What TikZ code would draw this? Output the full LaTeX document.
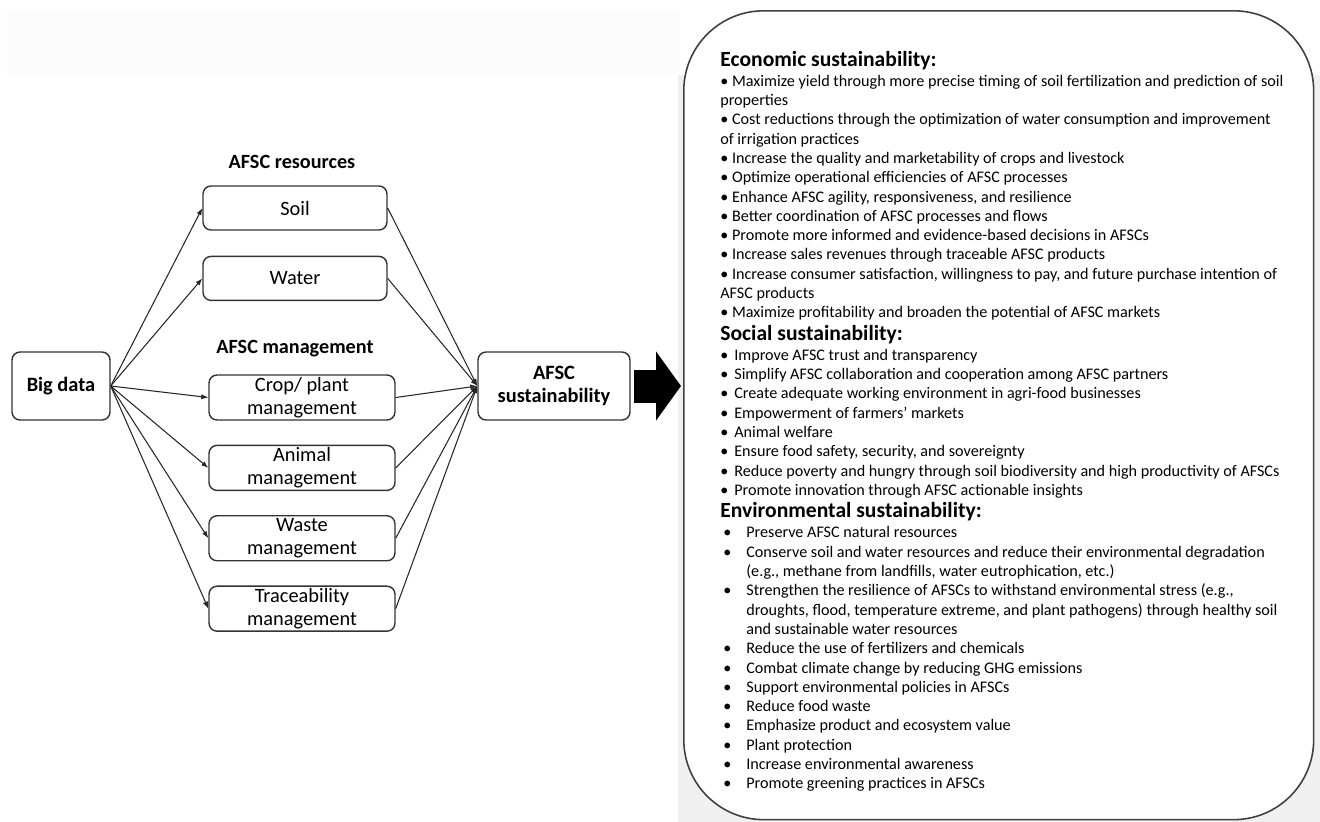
\documentclass[tikz,border=0pt]{standalone}
\usepackage{fontspec}
\setmainfont{Carlito}
\usetikzlibrary{arrows.meta,positioning}

\newcommand{\bodyfont}{\fontsize{9.2}{10.98}\selectfont}
\newcommand{\boxfont}{\fontsize{11.6}{13.2}\selectfont}
\newcommand{\ecobul}{\strut\textbullet\ }
\newcommand{\socbul}{\strut\makebox[0.28cm][l]{\textbullet}}
\newcommand{\envbul}{\strut\makebox[0.46cm][l]{\textbullet}}
\newcommand{\envcont}{\strut\hspace*{0.46cm}}

\begin{document}
\begin{tikzpicture}[
        x=0.02cm, y=-0.02cm,
        font=\boxfont,
        box/.style={draw=black!80, line width=0.8pt, rounded corners=1.6mm, align=center, inner sep=0pt, minimum width=3.68cm, minimum height=0.88cm},
        mbox/.style={box, minimum width=3.72cm, minimum height=0.9cm},
        hub/.style={box, font=\boxfont\bfseries, minimum height=1.36cm},
        grp/.style={font=\fontsize{11.5}{13}\selectfont\bfseries, inner sep=0pt},
        head/.style={font=\fontsize{12.3}{14}\selectfont\bfseries, inner sep=0pt, anchor=base west},
        items/.style={font=\bodyfont, align=left, inner sep=0pt, anchor=north west},
        arr/.style={-{Latex[length=4pt,width=3pt]}, line width=0.6pt, black!85},
        bigarr/.style={-{Triangle[length=0.5cm,width=1.36cm]}, line width=0.66cm, black}
    ]
        \useasboundingbox (0,0) rectangle (1320,822);
        \fill[black!1.2] (7,10) rectangle (680,75);
        \fill[black!6] (678,75) rectangle (1320,822);

        % left part
        \node[hub, minimum width=1.96cm] (big) at (61,386) {Big data};
        \node[grp] (res) at (292,162) {AFSC resources};
        \node[box] (soil) at (295,208) {Soil};
        \node[box, below=0.5cm of soil] (water) {Water};
        \node[grp] (mgmt) at (295,349) {AFSC management};
        \node[mbox] (crop) at (302,397.5) {Crop/ plant\\management};
        \node[mbox, below=0.48cm of crop] (animal) {Animal\\management};
        \node[mbox, below=0.48cm of animal] (waste) {Waste\\management};
        \node[mbox, below=0.48cm of waste] (trace) {Traceability\\management};
        \node[hub, minimum width=3.04cm] (sust) at (554,386) {AFSC\\sustainability};

        \draw[arr] (big.east) -- (soil.west);
        \draw[arr] (big.east) -- (water.west);
        \draw[arr] (big.east) -- (crop.west);
        \draw[arr] (big.east) -- (animal.west);
        \draw[arr] (big.east) -- (waste.west);
        \draw[arr] (big.east) -- (trace.west);
        \draw[arr] (soil.east) -- (sust.west);
        \draw[arr] (water.east) -- (sust.west);
        \draw[arr] (crop.east) -- (sust.west);
        \draw[arr] (animal.east) -- (sust.west);
        \draw[arr] (waste.east) -- (sust.west);
        \draw[arr] (trace.east) -- (sust.west);

        % right part
        \node[draw=black!75, line width=0.9pt, fill=white, rounded corners=1.6cm, minimum width=12.6cm, minimum height=16.18cm, inner sep=0pt, anchor=north west] (frame) at (683,10) {};
        \coordinate (tip) at (sust.east -| frame.west);
        \draw[bigarr] ([xshift=0.06cm]sust.east) -- ([xshift=-0.04cm]tip);

        \node[head] (econ) at (720,66) {Economic sustainability:};
        \node[items] (econlist) at ([yshift=-0.128cm]econ.base west) {%
            \ecobul Maximize yield through more precise timing of soil fertilization and prediction of soil\\
            \strut properties\\
            \ecobul Cost reductions through the optimization of water consumption and improvement\\
            \strut of irrigation practices\\
            \ecobul Increase the quality and marketability of crops and livestock\\
            \ecobul Optimize operational efficiencies of AFSC processes\\
            \ecobul Enhance AFSC agility, responsiveness, and resilience\\
            \ecobul Better coordination of AFSC processes and flows\\
            \ecobul Promote more informed and evidence-based decisions in AFSCs\\
            \ecobul Increase sales revenues through traceable AFSC products\\
            \ecobul Increase consumer satisfaction, willingness to pay, and future purchase intention of\\
            \strut AFSC products\\
            \ecobul Maximize profitability and broaden the potential of AFSC markets};

        \node[head] (soc) at ([yshift=-0.324cm]econlist.south west) {Social sustainability:};
        \node[items] (soclist) at ([yshift=-0.128cm]soc.base west) {%
            \socbul Improve AFSC trust and transparency\\
            \socbul Simplify AFSC collaboration and cooperation among AFSC partners\\
            \socbul Create adequate working environment in agri-food businesses\\
            \socbul Empowerment of farmers’ markets\\
            \socbul Animal welfare\\
            \socbul Ensure food safety, security, and sovereignty\\
            \socbul Reduce poverty and hungry through soil biodiversity and high productivity of AFSCs\\
            \socbul Promote innovation through AFSC actionable insights};

        \node[head] (env) at ([yshift=-0.324cm]soclist.south west) {Environmental sustainability:};
        \node[items] (envlist) at ([xshift=0.06cm, yshift=-0.128cm]env.base west) {%
            \envbul Preserve AFSC natural resources\\
            \envbul Conserve soil and water resources and reduce their environmental degradation\\
            \envcont (e.g., methane from landfills, water eutrophication, etc.)\\
            \envbul Strengthen the resilience of AFSCs to withstand environmental stress (e.g.,\\
            \envcont droughts, flood, temperature extreme, and plant pathogens) through healthy soil\\
            \envcont and sustainable water resources\\
            \envbul Reduce the use of fertilizers and chemicals\\
            \envbul Combat climate change by reducing GHG emissions\\
            \envbul Support environmental policies in AFSCs\\
            \envbul Reduce food waste\\
            \envbul Emphasize product and ecosystem value\\
            \envbul Plant protection\\
            \envbul Increase environmental awareness\\
            \envbul Promote greening practices in AFSCs};
    \end{tikzpicture}
\end{document}
